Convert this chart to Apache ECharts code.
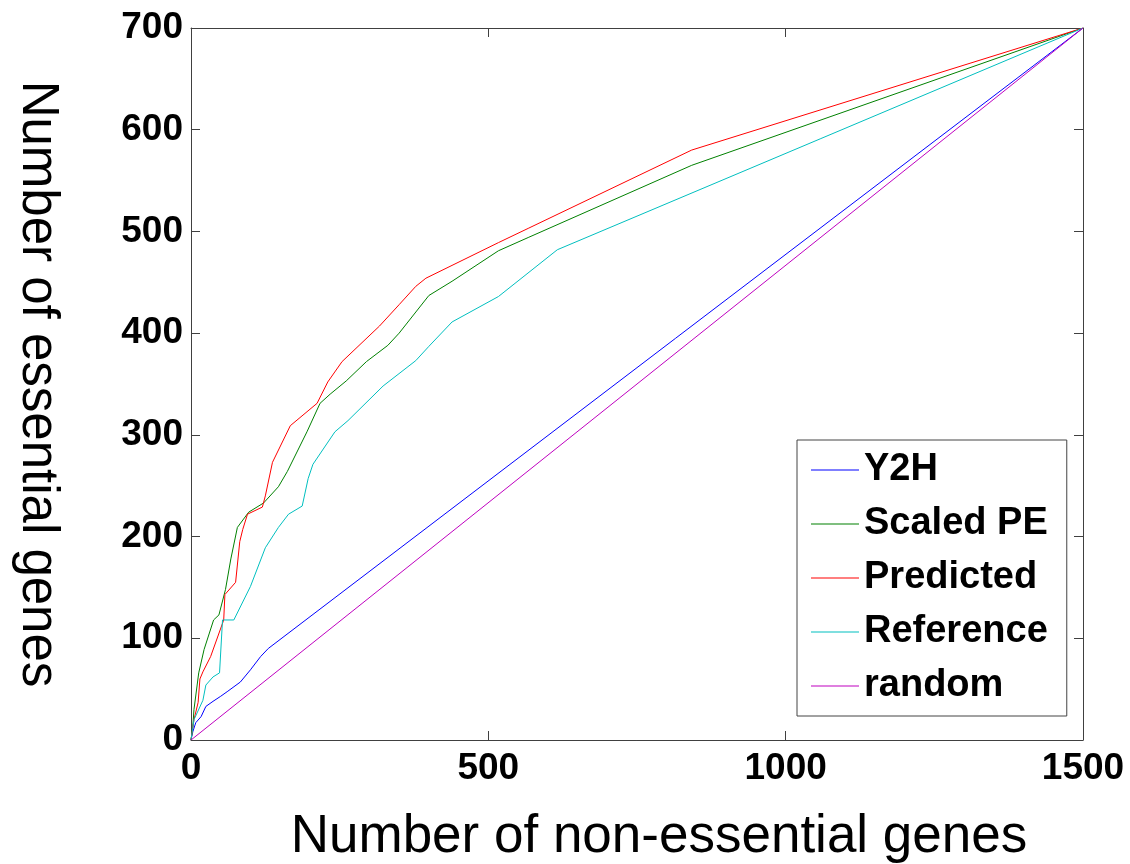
<!DOCTYPE html>
<html>
<head>
<meta charset="utf-8">
<script src="https://cdn.jsdelivr.net/npm/echarts@6/dist/echarts.min.js"></script>
<style>
html,body{margin:0;padding:0;background:#fff;}
#c{width:1130px;height:864px;}
</style>
</head>
<body>
<div id="c"></div>
<script>
// ---- data ----
const seriesNames = ['Y2H', 'Scaled PE', 'Predicted', 'Reference', 'random'];
const seriesColors = ['#0000ff', '#008000', '#ff0000', '#00bfbf', '#bf00bf'];

const y2h = [[0,0],[3,8],[8,17],[17,23],[25,33],[37,38],[50,43],[62,48],[83,57],[100,69],[117,82],[130,90],[1500,700]];
const scaledPE = [[0,0],[3,13],[5,30],[13,66],[22,89],[38,118],[47,123],[58,148],[67,178],[78,209],[97,224],[122,233],[147,249],[162,264],[195,303],[217,331],[234,340],[261,353],[295,372],[331,388],[350,400],[400,437],[439,451],[517,481],[567,494],[842,565],[1500,700]];
const predicted = [[0,0],[5,20],[12,37],[15,60],[20,67],[33,82],[55,118],[57,143],[75,155],[82,195],[87,207],[95,222],[120,229],[125,240],[137,273],[167,309],[212,331],[230,352],[254,372],[317,407],[350,428],[378,446],[395,454],[517,489],[567,503],[842,580],[1500,700]];
const reference = [[0,0],[5,20],[20,39],[25,54],[37,62],[48,66],[53,118],[72,118],[100,151],[125,189],[147,209],[164,222],[187,230],[197,257],[205,271],[242,303],[264,314],[323,348],[378,373],[400,387],[439,411],[517,436],[616,482],[1500,700]];
const randomLine = [[0,0],[1500,700]];

const xTicks = [0, 500, 1000, 1500];
const yTicks = [0, 100, 200, 300, 400, 500, 600, 700];
const xTitle = 'Number of non-essential genes';
const yTitle = 'Number of essential genes';

// ---- chart ----
const FONT = "'Liberation Sans', Arial, sans-serif";
const allData = [y2h, scaledPE, predicted, reference, randomLine];
const axisLineColor = '#404040';

const baseX = {
  type: 'value',
  min: xTicks[0], max: xTicks[xTicks.length - 1],
  interval: xTicks[1] - xTicks[0],
  splitLine: { show: false },
  axisLine: { show: true, onZero: false, lineStyle: { color: axisLineColor, width: 1 } },
  axisTick: { show: true, inside: true, length: 9, lineStyle: { color: axisLineColor } }
};
const baseY = {
  type: 'value',
  min: yTicks[0], max: yTicks[yTicks.length - 1],
  interval: yTicks[1] - yTicks[0],
  splitLine: { show: false },
  axisLine: { show: true, onZero: false, lineStyle: { color: axisLineColor, width: 1 } },
  axisTick: { show: true, inside: true, length: 9, lineStyle: { color: axisLineColor } }
};

const option = {
  backgroundColor: '#fff',
  animation: false,
  grid: { left: 191, right: 47, top: 28, bottom: 124, containLabel: false, outerBoundsMode: 'none' },
  legend: {
    orient: 'vertical',
    left: 797, top: 440,
    data: seriesNames.map(n => ({ name: n, icon: 'rect' })),
    itemWidth: 48, itemHeight: 1,
    itemGap: 14,
    padding: [10, 19, 10, 14],
    borderColor: '#444', borderWidth: 1,
    backgroundColor: '#fff',
    textStyle: { fontSize: 38, fontWeight: 'bold', color: '#000', fontFamily: FONT, lineHeight: 40 }
  },
  xAxis: [
    Object.assign({}, baseX, {
      position: 'bottom',
      name: xTitle, nameLocation: 'middle', nameGap: 71,
      nameTextStyle: { fontSize: 53, color: '#000', fontFamily: FONT, padding: [0, 0, 0, 44] },
      axisLabel: { show: true, fontSize: 37, fontWeight: 'bold', color: '#000', fontFamily: FONT, margin: 10, formatter: v => String(v) }
    }),
    Object.assign({}, baseX, { position: 'top', axisLabel: { show: false } })
  ],
  yAxis: [
    Object.assign({}, baseY, {
      position: 'left',
      name: yTitle, nameLocation: 'middle', nameGap: 128, nameRotate: -90,
      nameTextStyle: { fontSize: 51, color: '#000', fontFamily: FONT },
      axisLabel: { show: true, fontSize: 37, fontWeight: 'bold', color: '#000', fontFamily: FONT, margin: 8, formatter: v => String(v) }
    }),
    Object.assign({}, baseY, { position: 'right', axisLabel: { show: false } })
  ],
  series: seriesNames.map((n, i) => ({
    name: n,
    type: 'line',
    data: allData[i],
    xAxisIndex: 0, yAxisIndex: 0,
    symbol: 'none',
    showSymbol: false,
    smooth: false,
    color: seriesColors[i],
    lineStyle: { color: seriesColors[i], width: 1 },
    itemStyle: { color: seriesColors[i] }
  }))
};

const chart = echarts.init(document.getElementById('c'), null, { renderer: 'canvas' });
chart.setOption(option);
</script>
</body>
</html>
